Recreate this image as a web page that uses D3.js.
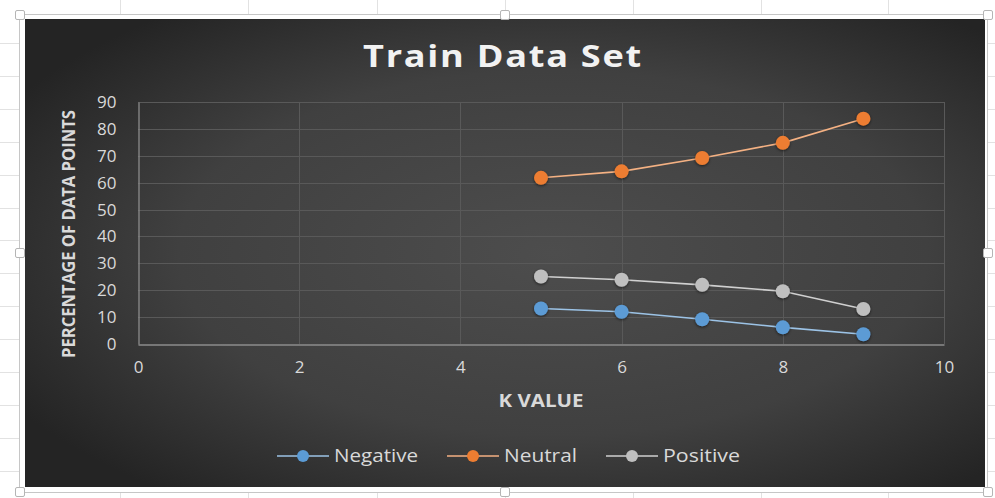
<!DOCTYPE html>
<html>
<head>
<meta charset="utf-8">
<script src="https://cdn.jsdelivr.net/npm/d3@7"></script>
<style>
  html, body { margin: 0; padding: 0; background: #ffffff; }
  svg { display: block; }
</style>
</head>
<body>
<svg id="chart" width="995" height="498"></svg>
<script>
// K values and class shares (%) for the training set
const kValues = [5, 6, 7, 8, 9];
const negative = [13.2, 12.0, 9.2, 6.2, 3.6];
const neutral = [61.8, 64.2, 69.2, 74.8, 83.8];
const positive = [25.1, 23.9, 22.0, 19.6, 13.0];
const seriesNames = ["Negative", "Neutral", "Positive"];
const xTicks = [0, 2, 4, 6, 8, 10];
const yTicks = [0, 10, 20, 30, 40, 50, 60, 70, 80, 90];

const colors = { Negative: "#5b9bd5", Neutral: "#ed7d31", Positive: "#bfbfbf" };
const lineColors = { Negative: "#9cc3e6", Neutral: "#f4b183", Positive: "#d0d0d0" };
const seriesValues = { Negative: negative, Neutral: neutral, Positive: positive };

const svg = d3.select("#chart");
const W = 995, H = 498;
const FONT = "'Open Sans', 'Noto Sans', sans-serif";

const defs = svg.append("defs");
const bg = defs.append("radialGradient").attr("id", "bg")
  .attr("cx", "55%").attr("cy", "50%").attr("r", "65%");
bg.append("stop").attr("offset", "0%").attr("stop-color", "#4d4d4d");
bg.append("stop").attr("offset", "60%").attr("stop-color", "#404040");
bg.append("stop").attr("offset", "100%").attr("stop-color", "#242424");

const glow = defs.append("filter").attr("id", "glow")
  .attr("x", "-50%").attr("y", "-50%").attr("width", "200%").attr("height", "200%");
glow.append("feGaussianBlur").attr("in", "SourceAlpha").attr("stdDeviation", 1.6).attr("result", "b");
glow.append("feOffset").attr("in", "b").attr("dy", 1).attr("result", "o");
glow.append("feComponentTransfer").attr("in", "o").attr("result", "s")
  .append("feFuncA").attr("type", "linear").attr("slope", 0.6);
const gm = glow.append("feMerge");
gm.append("feMergeNode").attr("in", "s");
gm.append("feMergeNode").attr("in", "SourceGraphic");

// worksheet cell grid behind the chart object
const colLines = [120, 248, 377, 505, 633, 761, 888];
const rowLines = d3.range(43, H, 32.9);
svg.append("g").selectAll("line.c").data(colLines).join("line")
  .attr("x1", d => d + 0.5).attr("x2", d => d + 0.5).attr("y1", 0).attr("y2", H)
  .attr("stroke", "#e2e2e2").attr("stroke-width", 1);
svg.append("g").selectAll("line.r").data(rowLines).join("line")
  .attr("x1", 0).attr("x2", W).attr("y1", d => Math.round(d) + 0.5).attr("y2", d => Math.round(d) + 0.5)
  .attr("stroke", "#e2e2e2").attr("stroke-width", 1);

// selection frame
svg.append("rect").attr("x", 19.5).attr("y", 14.5).attr("width", 968).attr("height", 478)
  .attr("fill", "#ffffff").attr("stroke", "#c6c6c6").attr("stroke-width", 1);

// chart area
svg.append("rect").attr("x", 25).attr("y", 19).attr("width", 960).attr("height", 468)
  .attr("fill", "url(#bg)");

// handles
const handles = [[20, 15], [505, 15], [988, 15], [20, 253], [988, 253], [20, 492], [505, 492], [988, 492]];
svg.append("g").selectAll("rect").data(handles).join("rect")
  .attr("x", d => d[0] - 4.5).attr("y", d => d[1] - 4.5).attr("width", 9).attr("height", 9)
  .attr("rx", 1.5).attr("fill", "#ffffff").attr("stroke", "#b5b5b5").attr("stroke-width", 1);

const x = d3.scaleLinear().domain([0, 10]).range([138, 944]);
const y = d3.scaleLinear().domain([0, 90]).range([344, 102]);

// gridlines
const grid = svg.append("g");
grid.selectAll("line.h").data(yTicks.filter(d => d > 0)).join("line")
  .attr("x1", x(0)).attr("x2", x(10))
  .attr("y1", d => Math.round(y(d)) + 0.5).attr("y2", d => Math.round(y(d)) + 0.5)
  .attr("stroke", "#595959").attr("stroke-width", 1);
grid.selectAll("line.v").data(xTicks.filter(d => d > 0)).join("line")
  .attr("x1", d => Math.round(x(d)) + 0.5).attr("x2", d => Math.round(x(d)) + 0.5)
  .attr("y1", y(90)).attr("y2", y(0))
  .attr("stroke", "#595959").attr("stroke-width", 1);

// axes
const xAxis = svg.append("g").attr("transform", `translate(0,${Math.round(y(0)) + 0.5})`)
  .call(d3.axisBottom(x).tickValues(xTicks).tickSize(0).tickPadding(16).tickFormat(d3.format("d")));
const yAxis = svg.append("g").attr("transform", `translate(${Math.round(x(0)) + 0.5},0)`)
  .call(d3.axisLeft(y).tickValues(yTicks).tickSize(0).tickPadding(22).tickFormat(d3.format("d")));
[xAxis, yAxis].forEach(a => {
  a.select(".domain").attr("stroke", "#8c8c8c").attr("stroke-width", 1.3);
  a.selectAll("text").attr("fill", "#d9d9d9").attr("font-family", FONT).attr("font-size", 17);
});

// series
const line = d3.line().x((d, i) => x(kValues[i])).y(d => y(d));
seriesNames.forEach(name => {
  const vals = seriesValues[name];
  const g = svg.append("g");
  g.append("path").datum(vals).attr("d", line)
    .attr("fill", "none").attr("stroke", lineColors[name]).attr("stroke-width", 1.6);
  g.selectAll("circle").data(vals).join("circle")
    .attr("cx", (d, i) => x(kValues[i])).attr("cy", d => y(d)).attr("r", 7)
    .attr("fill", colors[name]).attr("filter", "url(#glow)");
});

// title
svg.append("text").attr("x", 503).attr("y", 67).attr("text-anchor", "middle")
  .attr("font-family", FONT).attr("font-weight", 700).attr("font-size", 31)
  .attr("letter-spacing", 1.5)
  .attr("textLength", 280).attr("lengthAdjust", "spacingAndGlyphs")
  .attr("fill", "#f2f2f2").text("Train Data Set");

// axis titles
svg.append("text").attr("x", 541).attr("y", 407).attr("text-anchor", "middle")
  .attr("font-family", FONT).attr("font-weight", 700).attr("font-size", 17)
  .attr("textLength", 85).attr("lengthAdjust", "spacingAndGlyphs")
  .attr("fill", "#d9d9d9").text("K VALUE");
svg.append("text").attr("transform", "translate(75,234) rotate(-90)").attr("text-anchor", "middle")
  .attr("font-family", FONT).attr("font-weight", 700).attr("font-size", 17)
  .attr("textLength", 248).attr("lengthAdjust", "spacingAndGlyphs")
  .attr("fill", "#d9d9d9").text("PERCENTAGE OF DATA POINTS");

// legend
const legendX = [277, 447, 606];
const legendTextW = [84, 73, 77];
const legend = svg.append("g");
seriesNames.forEach((name, i) => {
  const lg = legend.append("g").attr("transform", `translate(${legendX[i]},456)`);
  lg.append("line").attr("x1", 0).attr("x2", 52).attr("y1", 0).attr("y2", 0)
    .attr("stroke", lineColors[name]).attr("stroke-width", 1.6);
  lg.append("circle").attr("cx", 26).attr("cy", 0).attr("r", 6).attr("fill", colors[name]);
  lg.append("text").attr("x", 57).attr("y", 6).attr("font-family", FONT).attr("font-size", 18)
    .attr("textLength", legendTextW[i]).attr("lengthAdjust", "spacingAndGlyphs")
    .attr("fill", "#d9d9d9").text(name);
});
</script>
</body>
</html>
